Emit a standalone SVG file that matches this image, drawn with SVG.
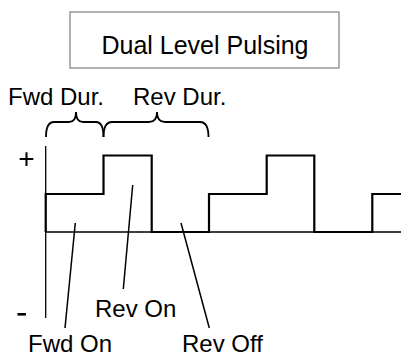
<svg xmlns="http://www.w3.org/2000/svg" width="401" height="354" viewBox="0 0 401 354">
<style>
.t{font-family:"Liberation Sans",Arial,sans-serif;fill:#000;}
.lbl{font-size:24px;}
.ln{fill:none;stroke:#000;}
</style>
<rect width="401" height="354" fill="#fff"/>
<g id="title">
<rect x="70" y="12" width="269" height="56" fill="#fff" stroke="#999" stroke-width="1.5"/>
<text class="t" x="205" y="54" font-size="25" text-anchor="middle">Dual Level Pulsing</text>
</g>
<g id="axes">
<line class="ln" x1="45.7" y1="146" x2="45.7" y2="318" stroke-width="1.3"/>
<line class="ln" x1="45" y1="232" x2="401" y2="232" stroke-width="1.3"/>
<text class="t" x="26.5" y="168" font-size="28" text-anchor="middle">+</text>
<rect x="17.5" y="313" width="8.5" height="2.6" fill="#000"/>
</g>
<g id="waveform">
<path class="ln" stroke-width="2.2" d="M45.7,232 V194 H103.5 V155.5 H151.7 V232 H209 V194 H266.7 V155.5 H314.3 V232 H372.3 V194 H401"/>
</g>
<g id="braces">
<path class="ln" stroke-width="1.8" d="M46,137 Q46,122 54,122 H69 Q76,122 76,112 Q76,122 83,122 H96 Q103.5,122 103.5,137"/>
<path class="ln" stroke-width="1.8" d="M103.5,137 Q103.5,122 112,122 H149 Q157,122 157,112 Q157,122 165,122 H200 Q208.5,122 208.5,137"/>
</g>
<g id="connectors">
<line class="ln" stroke-width="1.5" x1="75.3" y1="223" x2="65" y2="328"/>
<line class="ln" stroke-width="1.5" x1="132.7" y1="185" x2="123.3" y2="289"/>
<line class="ln" stroke-width="1.5" x1="181" y1="223" x2="209.3" y2="328"/>
</g>
<g id="labels">
<text class="t lbl" x="8" y="105">Fwd Dur.</text>
<text class="t lbl" x="133" y="105">Rev Dur.</text>
<text class="t lbl" x="95" y="317">Rev On</text>
<text class="t lbl" x="28" y="352">Fwd On</text>
<text class="t lbl" x="182" y="352">Rev Off</text>
</g>
</svg>
